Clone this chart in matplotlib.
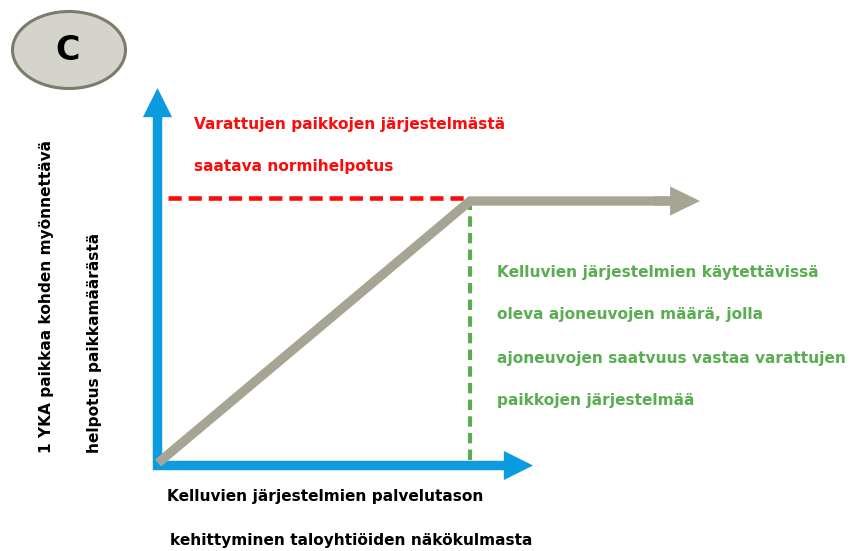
import matplotlib
matplotlib.use("Agg")
import matplotlib.pyplot as plt
from matplotlib.patches import FancyArrowPatch, Ellipse

plt.rcParams['font.family'] = ['DejaVu Sans']
plt.rcParams['lines.scale_dashes'] = False

# ---- data (conceptual units: threshold service level = 1, norm relief = 1) ----
service_level = [0.0, 1.0, 1.64]     # gray relief curve (x)
relief = [0.0, 1.0, 1.0]             # gray relief curve (y)
arrow_end_x = 1.737                  # gray curve continues (arrow tip)
norm_relief_x = [0.032, 0.985]       # red dashed: normihelpotus
norm_relief_y = [1.012, 1.012]
threshold_x = [1.0, 1.0]             # green dashed: threshold level
threshold_y = [0.01, 0.98]

title_letter = "C"
red_lines = ["Varattujen paikkojen järjestelmästä", "saatava normihelpotus"]
green_lines = ["Kelluvien järjestelmien käytettävissä",
               "oleva ajoneuvojen määrä, jolla",
               "ajoneuvojen saatvuus vastaa varattujen",
               "paikkojen järjestelmää"]
x_label_lines = ["Kelluvien järjestelmien palvelutason",
                 "kehittyminen taloyhtiöiden näkökulmasta"]
y_label_lines = ["1 YKA paikkaa kohden myönnettävä",
                 "helpotus paikkamäärästä"]

W, H = 851, 551
fig = plt.figure(figsize=(W / 100, H / 100), dpi=100)
fig.patch.set_facecolor('white')

# axes mapping: origin at pixel (158, 463); unit = 312 px in x, 262 px in y
ox, oy, ux, uy = 158, 463, 312, 262
ax = fig.add_axes([0, 0, 1, 1])
ax.set_xlim(-ox / ux, (W - ox) / ux)
ax.set_ylim((oy - H) / uy, oy / uy)
ax.axis('off')

def px2d(px, py):
    return ((px - ox) / ux, (oy - py) / uy)

blue = '#0B9BE0'
gray = '#A6A594'
red = '#FF0A0A'
green = '#5AAD50'

# blue axes arrows
ax.add_patch(FancyArrowPatch(px2d(157.5, 470), px2d(157.5, 88),
             arrowstyle='simple,head_length=21,head_width=21,tail_width=6.8',
             mutation_scale=1, shrinkA=0, shrinkB=0, lw=0, color=blue, zorder=3))
ax.add_patch(FancyArrowPatch(px2d(153, 465.5), px2d(533, 465.5),
             arrowstyle='simple,head_length=21,head_width=21,tail_width=6.8',
             mutation_scale=1, shrinkA=0, shrinkB=0, lw=0, color=blue, zorder=3))

# red dashed norm line
ax.plot(norm_relief_x, norm_relief_y, color=red, lw=3.3, dashes=(9.5, 5),
        solid_capstyle='butt', dash_capstyle='butt', zorder=2)
# green dashed threshold line
ax.plot(threshold_x, threshold_y, color=green, lw=3.0, dashes=(7.5, 4.5),
        dash_capstyle='butt', zorder=2)

# gray relief curve
ax.plot(service_level, relief, color=gray, lw=6.7, solid_joinstyle='miter',
        solid_capstyle='butt', zorder=4)
ax.add_patch(FancyArrowPatch((service_level[-1] - 0.05, relief[-1]), (arrow_end_x, relief[-1]),
             arrowstyle='simple,head_length=21.5,head_width=21,tail_width=6.7',
             mutation_scale=1, shrinkA=0, shrinkB=0, lw=0, color=gray, zorder=4))

# "C" ellipse badge
fig.patches.append(Ellipse((69 / W, 1 - 50 / H), 113 / W, 77 / H, transform=fig.transFigure,
                           facecolor='#D5D4CC', edgecolor='#7C7B6C', lw=2.2))
fig.text(68 / W, 1 - 51 / H, title_letter, ha='center', va='center', fontsize=24,
         fontweight='bold', color='black')

fs = 11.1
for i, t in enumerate(red_lines):
    fig.text(194 / W, 1 - (124 + 43 * i) / H, t, ha='left', va='center',
             fontsize=fs, fontweight='bold', color=red)
for i, t in enumerate(green_lines):
    fig.text(497 / W, 1 - (272 + 43 * i) / H, t, ha='left', va='center',
             fontsize=fs, fontweight='bold', color=green)
for i, (t, x) in enumerate(zip(x_label_lines, [167, 170])):
    fig.text(x / W, 1 - (497 + 43 * i) / H, t, ha='left', va='center',
             fontsize=fs, fontweight='bold', color='black')
for i, (t, x) in enumerate(zip(y_label_lines, [47, 94])):
    fig.text(x / W, 1 - 453 / H, t, ha='left', va='center', rotation=90,
             rotation_mode='anchor', fontsize=fs, fontweight='bold', color='black')

fig.savefig('out.png', dpi=100, facecolor='white')
